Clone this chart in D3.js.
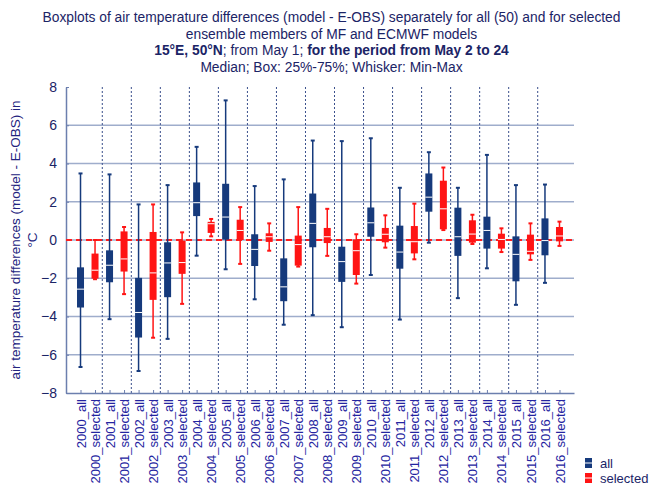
<!DOCTYPE html>
<html>
<head>
<meta charset="utf-8">
<script src="https://cdn.jsdelivr.net/npm/d3@7"></script>
<style>
  body { margin: 0; background: #fff; }
  svg text { font-family: "Liberation Sans", Arial, sans-serif; }
</style>
</head>
<body>
<div id="chart"></div>
<script>
// years and the two member groups
var years = ["2000","2001","2002","2003","2004","2005","2006","2007","2008","2009","2010","2011","2012","2013","2014","2015","2016"];
var groups = ["all", "selected"];
var labels = years.flatMap(function(y) { return groups.map(function(g) { return y + "_" + g; }); });

// box statistics, one value per label (in °C)
var mins    = [-6.64,-2.05,-4.14,-2.83,-6.85,-5.11,-5.17,-3.34,-0.82,0.19,-1.53,-1.25,-3.1,-0.56,-4.43,-1.39,-3.93,-0.83,-4.56,-2.28,-1.83,-0.4,-4.16,-1.01,-0.14,0.52,-3.04,-0.21,-1.48,-0.63,-3.39,-1.04,-2.24,-0.31];
var q1s     = [-3.53,-2.02,-2.21,-1.65,-5.1,-3.13,-2.99,-1.77,1.25,0.37,0.02,0,-1.36,-0.1,-3.2,-1.34,-0.38,-0.16,-2.19,-1.83,0.17,-0.12,-1.5,-0.7,1.48,0.56,-0.83,-0.14,-0.45,-0.45,-2.16,-0.75,-0.8,-0.07];
var medians = [-2.57,-1.58,-1.32,-0.99,-3.79,-1.72,-1.2,-1.18,1.95,0.85,1.2,0.5,-0.49,0.17,-2.45,-0.24,0.87,0.17,-1.13,-0.56,0.9,0.3,-0.63,-0.09,2.24,1.63,0.17,0.31,0.5,0.03,-0.75,-0.59,-0.03,0.21];
var q3s     = [-1.43,-0.71,-0.54,0.45,-1.98,0.42,-0.12,-0.03,3.01,0.95,2.94,1.06,0.3,0.35,-0.96,0.23,2.43,0.63,-0.35,0.03,1.7,0.63,0.75,0.73,3.48,3.1,1.69,1.03,1.22,0.33,0.19,0.28,1.13,0.68];
var maxs    = [3.48,0.0,3.43,0.68,1.86,1.86,2.87,0.4,4.87,1.1,7.3,1.72,2.82,0.87,3.17,1.72,5.2,1.63,5.17,0.3,5.32,1.29,2.73,1.9,4.59,3.79,2.73,1.32,4.45,0.61,2.87,0.87,2.9,0.96];
var yTicks = [-8,-6,-4,-2,0,2,4,6,8];

var colors = { all: "#163a7c", selected: "#ff1414" };
var textColor = "#1b2466";

var width = 652, height = 490;
var margin = { left: 66, right: 78, top: 87, bottom: 97 };

var data = labels.map(function(l, i) {
  return { label: l, pos: i + 1, group: l.split("_")[1],
           min: mins[i], q1: q1s[i], med: medians[i], q3: q3s[i], max: maxs[i] };
});

var svg = d3.select("#chart").append("svg")
  .attr("width", width)
  .attr("height", height);

var x = d3.scaleLinear().domain([0, labels.length + 1]).range([margin.left, width - margin.right]);
var y = d3.scaleLinear().domain([-8, 8]).range([height - margin.bottom, margin.top]);

// title
var title = svg.append("g").attr("fill", textColor).attr("text-anchor", "middle").style("font-size", "13.8px");
title.append("text").attr("x", 331.5).attr("y", 22)
  .text("Boxplots of air temperature differences (model - E-OBS) separately for all (50) and for selected");
title.append("text").attr("x", 331.5).attr("y", 38.5)
  .text("ensemble members of MF and ECMWF models");
var t3 = title.append("text").attr("x", 331.5).attr("y", 55);
t3.append("tspan").attr("font-weight", "bold").text("15°E, 50°N");
t3.append("tspan").text("; from May 1; ");
t3.append("tspan").attr("font-weight", "bold").text("for the period from May 2 to 24");
title.append("text").attr("x", 331.5).attr("y", 71.5)
  .text("Median; Box: 25%-75%; Whisker: Min-Max");

// horizontal grid
svg.append("g")
  .selectAll("line")
  .data(yTicks.filter(function(d) { return d > -8 && d < 8; }))
  .enter().append("line")
  .attr("x1", x(0)).attr("x2", x(labels.length + 1))
  .attr("y1", function(d) { return y(d); })
  .attr("y2", function(d) { return y(d); })
  .style("stroke", "#9fadcc")
  .style("stroke-width", 1.3);

// dotted separators between the years
svg.append("g")
  .selectAll("line")
  .data(years.slice(1))
  .enter().append("line")
  .attr("x1", function(d, i) { return x(2 * i + 2.5); })
  .attr("x2", function(d, i) { return x(2 * i + 2.5); })
  .attr("y1", y(8)).attr("y2", y(-8))
  .style("stroke", "#3a4f8c")
  .style("stroke-width", 1)
  .style("stroke-dasharray", "2,2");

// axes
var yAxis = d3.axisLeft(y).tickValues(yTicks).tickSizeInner(-3).tickSizeOuter(0).tickPadding(9);
var gy = svg.append("g").attr("transform", "translate(" + margin.left + ",0)").call(yAxis);
gy.select(".domain").style("stroke", "#6c7fae").style("stroke-width", 1.5);
gy.selectAll(".tick line").style("stroke", "#6c7fae");
gy.selectAll(".tick text").style("font-size", "14px").style("fill", textColor)
  .style("font-family", "'Liberation Sans', Arial, sans-serif");

var xAxis = d3.axisBottom(x).tickValues(data.map(function(d) { return d.pos; }))
  .tickSizeInner(-3).tickSizeOuter(0).tickFormat(function(d) { return labels[d - 1]; });
var gx = svg.append("g").attr("transform", "translate(0," + y(-8) + ")").call(xAxis);
gx.select(".domain").style("stroke", "#6c7fae").style("stroke-width", 1.5);
gx.selectAll(".tick line").style("stroke", "#6c7fae");
gx.selectAll(".tick text")
  .style("font-size", "13px").style("fill", "#2424a0")
  .style("font-family", "'Liberation Sans', Arial, sans-serif")
  .attr("text-anchor", "end")
  .attr("transform", "rotate(-90)")
  .attr("x", -6).attr("y", 0).attr("dy", "0.35em");

// y title
var yt = svg.append("g").attr("fill", "#23237e").attr("text-anchor", "middle").style("font-size", "13.5px");
yt.append("text").attr("transform", "translate(20," + y(0) + ") rotate(-90)")
  .text("air temperature differences (model - E-OBS)  in");
yt.append("text").attr("transform", "translate(37," + y(0) + ") rotate(-90)")
  .text("°C");

// zero line
svg.append("line")
  .attr("x1", x(0)).attr("x2", x(labels.length + 1))
  .attr("y1", y(0)).attr("y2", y(0))
  .style("stroke", "#ff2020")
  .style("stroke-width", 2)
  .style("stroke-dasharray", "6,4");

// boxes
var boxW = 7, capW = 4;
var box = svg.append("g").selectAll("g")
  .data(data)
  .enter().append("g");

box.append("line")
  .attr("x1", function(d) { return x(d.pos); })
  .attr("x2", function(d) { return x(d.pos); })
  .attr("y1", function(d) { return y(d.max); })
  .attr("y2", function(d) { return y(d.min); })
  .style("stroke", function(d) { return colors[d.group]; })
  .style("stroke-width", 1.5);

box.selectAll(".cap")
  .data(function(d) { return [d, d].map(function(e, i) { return { pos: e.pos, group: e.group, v: i ? e.min : e.max }; }); })
  .enter().append("line")
  .attr("class", "cap")
  .attr("x1", function(d) { return x(d.pos) - capW / 2; })
  .attr("x2", function(d) { return x(d.pos) + capW / 2; })
  .attr("y1", function(d) { return y(d.v); })
  .attr("y2", function(d) { return y(d.v); })
  .style("stroke", function(d) { return colors[d.group]; })
  .style("stroke-width", 2);

box.append("rect")
  .attr("x", function(d) { return x(d.pos) - boxW / 2; })
  .attr("width", boxW)
  .attr("y", function(d) { return y(d.q3); })
  .attr("height", function(d) { return y(d.q1) - y(d.q3); })
  .style("fill", function(d) { return colors[d.group]; });

box.append("line")
  .attr("x1", function(d) { return x(d.pos) - boxW / 2; })
  .attr("x2", function(d) { return x(d.pos) + boxW / 2; })
  .attr("y1", function(d) { return y(d.med); })
  .attr("y2", function(d) { return y(d.med); })
  .style("stroke", "#fff")
  .style("stroke-width", 1);

// legend
var legend = svg.append("g").selectAll("g")
  .data(groups)
  .enter().append("g")
  .attr("transform", function(d, i) { return "translate(585," + (458 + i * 15) + ")"; });
legend.append("rect")
  .attr("width", 7).attr("height", 10)
  .style("fill", function(d) { return colors[d]; });
legend.append("line")
  .attr("x1", 0).attr("x2", 7).attr("y1", 5).attr("y2", 5)
  .style("stroke", "#fff").style("stroke-width", 1);
legend.append("text")
  .attr("x", 15).attr("y", 10)
  .style("font-size", "13px").style("fill", textColor)
  .text(function(d) { return d; });
</script>
</body>
</html>
